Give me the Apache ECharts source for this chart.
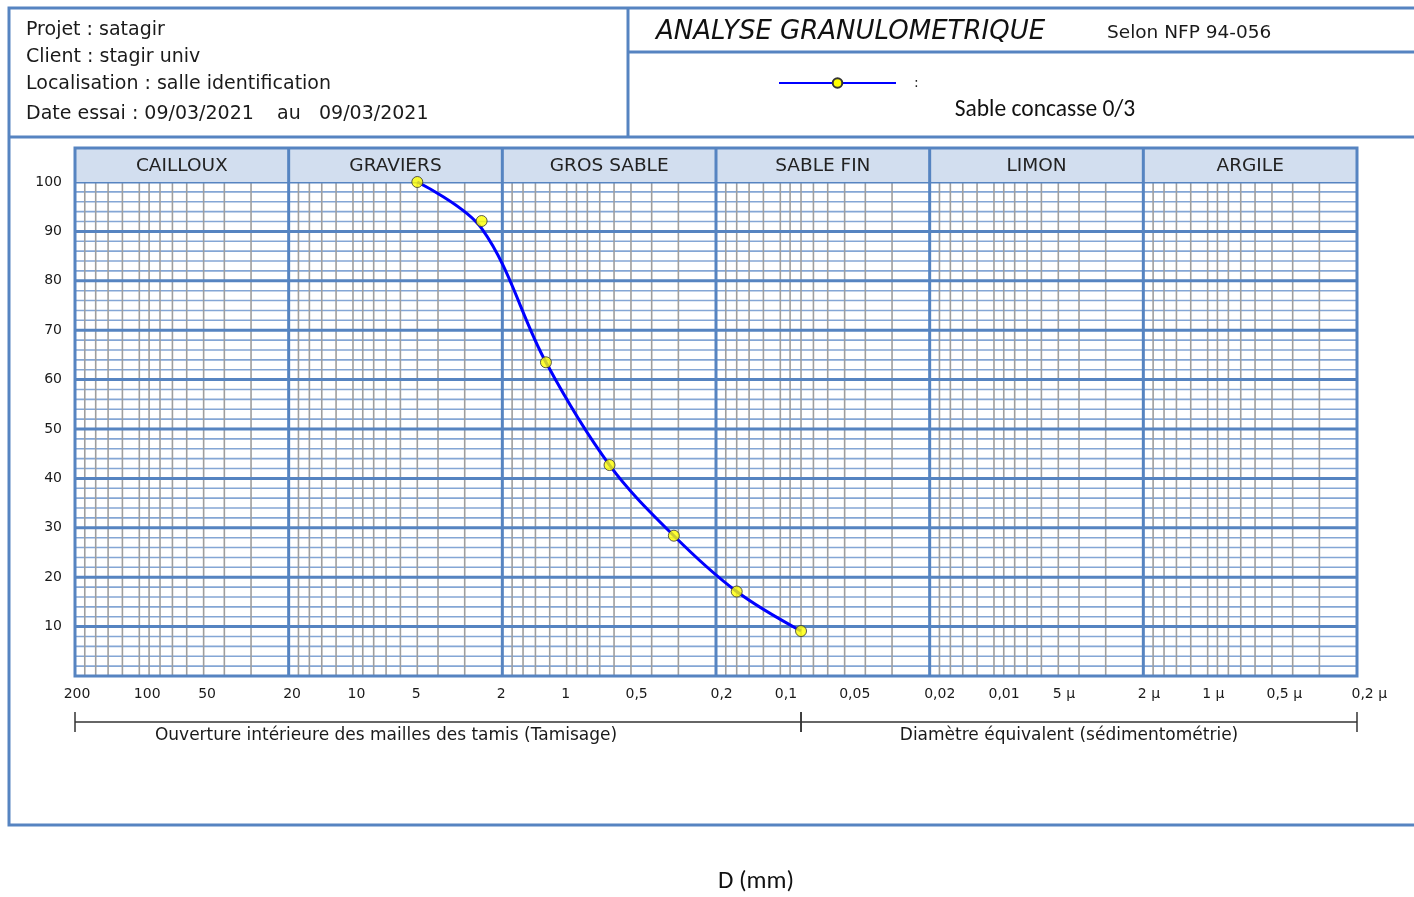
<!DOCTYPE html>
<html>
<head>
<meta charset="utf-8">
<title>Analyse granulométrique</title>
<script src="https://cdn.jsdelivr.net/npm/echarts@6/dist/echarts.min.js"></script>
<style>
  html, body { margin: 0; padding: 0; background: #ffffff; }
  #chart { width: 1414px; height: 897px; }
</style>
</head>
<body>
<div id="chart"></div>
<script>
// Tamisage : ouvertures des tamis (mm) et passants cumulés mesurés (%)
const tamis = [5, 2.5, 1.25, 0.63, 0.315, 0.16, 0.08];
const passants = [100, 92.1, 63.5, 42.7, 28.4, 17.1, 9.1];
// Courbe granulométrique lissée, relevée aux mêmes ouvertures (%)
const passantsCourbe = [100, 90.6, 63.5, 42.7, 28.4, 17.1, 9.1];
const nomEchantillon = 'Sable concasse 0/3';

// Classes granulométriques et leurs bornes (mm)
const classes = ['CAILLOUX', 'GRAVIERS', 'GROS SABLE', 'SABLE FIN', 'LIMON', 'ARGILE'];
const bornesClasses = [200, 20, 2, 0.2, 0.02, 0.002, 0.0002];

// Graduations de l'axe des diamètres (mm) et leurs libellés
const graduations = [200, 100, 50, 20, 10, 5, 2, 1, 0.5, 0.2, 0.1, 0.05, 0.02, 0.01, 0.005, 0.002, 0.001, 0.0005, 0.0002];
const libellesGraduations = ['200', '100', '50', '20', '10', '5', '2', '1', '0,5', '0,2', '0,1', '0,05', '0,02', '0,01', '5 µ', '2 µ', '1 µ', '0,5 µ', '0,2 µ'];

// Domaines de mesure sous l'axe (bornes en mm)
const domaines = [
  { de: 200, a: 0.08, texte: 'Ouverture intérieure des mailles des tamis (Tamisage)' },
  { de: 0.08, a: 0.0002, texte: 'Diamètre équivalent (sédimentométrie)' }
];

// Papier semi-logarithmique : subdivisions de chaque décade (× borne basse)
const subdivisions = [1.5, 2, 2.5, 3, 3.5, 4, 4.5, 5, 6, 7, 8, 9];
const basesDecades = [0.0002, 0.002, 0.02, 0.2, 2, 20];
const decadesInternes = [20, 2, 0.2, 0.02, 0.002];

const lignesVerticalesMineures = [];
basesDecades.forEach(b => subdivisions.forEach(m => lignesVerticalesMineures.push([+(b * m).toPrecision(6), 0])));
const lignesHorizMineures = [];
const lignesHorizMajeures = [];
for (let p = 2; p < 100; p += 2) {
  if (p % 10 === 0) lignesHorizMajeures.push([200, p]);
  else lignesHorizMineures.push([200, p]);
}
lignesHorizMajeures.push([200, 100]);

const BLEU = '#5684c1';
const BLEU_CLAIR = '#84a6d5';
const GRIS = '#9e9e9e';
const BANDEAU = '#d2deef';
const POLICE = "'DejaVu Sans', Verdana, sans-serif";
const POLICE_TEXTE = "Carlito, Lato, 'Open Sans', sans-serif";
const HAUTEUR_BANDEAU = 34;
// Décalage horizontal des libellés de domaines par rapport au milieu de l'accolade (px)
const decalagesDomaines = [-52, -10];

function trait(x1, y1, x2, y2, stroke, lineWidth) {
  return { type: 'line', shape: { x1, y1, x2, y2 }, style: { stroke, lineWidth } };
}

function texte(x, y, contenu, font, extra) {
  return { type: 'text', x, y, style: Object.assign({ text: contenu, font, fill: '#1a1a1a', verticalAlign: 'middle' }, extra || {}) };
}

const chart = echarts.init(document.getElementById('chart'));
const F_ENTETE = '19px ' + POLICE;

chart.setOption({
  animation: false,
  backgroundColor: '#ffffff',
  grid: { left: 75, right: 57, top: 182, bottom: 221, containLabel: false },
  xAxis: {
    type: 'log',
    min: 0.0002,
    max: 200,
    inverse: true,
    axisLine: { show: false },
    axisTick: { show: false },
    axisLabel: { show: false },
    splitLine: { show: false }
  },
  yAxis: {
    type: 'value',
    min: 0,
    max: 100,
    interval: 10,
    axisLine: { show: false },
    axisTick: { show: false },
    splitLine: { show: false },
    axisLabel: {
      margin: 13,
      color: '#1a1a1a',
      fontFamily: POLICE,
      fontSize: 14,
      formatter: v => (v === 0 ? '' : String(v))
    }
  },
  legend: {
    left: 773,
    top: 71,
    itemWidth: 117,
    itemHeight: 12,
    selectedMode: false,
    data: [nomEchantillon],
    formatter: () => ':',
    textStyle: { color: '#222', fontFamily: POLICE, fontSize: 14, padding: [0, 0, 0, 13] }
  },
  graphic: [
    { type: 'rect', z: -10, shape: { x: 9, y: 8, width: 1420, height: 817 }, style: { fill: 'none', stroke: BLEU, lineWidth: 3 } },
    { type: 'line', z: -10, shape: { x1: 628, y1: 8, x2: 628, y2: 137 }, style: { stroke: BLEU, lineWidth: 3 } },
    { type: 'line', z: -10, shape: { x1: 9, y1: 137, x2: 1414, y2: 137 }, style: { stroke: BLEU, lineWidth: 3 } },
    { type: 'line', z: -10, shape: { x1: 628, y1: 52, x2: 1414, y2: 52 }, style: { stroke: BLEU, lineWidth: 3 } },
    texte(26, 30, 'Projet : satagir', F_ENTETE),
    texte(26, 57, 'Client : stagir univ', F_ENTETE),
    texte(26, 84, 'Localisation : salle identification', F_ENTETE),
    texte(26, 114, 'Date essai : 09/03/2021', F_ENTETE),
    texte(277, 114, 'au', F_ENTETE),
    texte(319, 114, '09/03/2021', F_ENTETE),
    texte(656, 32, 'ANALYSE GRANULOMETRIQUE', 'italic 26px ' + POLICE, { fill: '#111' }),
    texte(1107, 33, 'Selon NFP 94-056', '18.5px ' + POLICE),
    texte(1045, 110, nomEchantillon, '23.5px ' + POLICE_TEXTE, { fill: '#111', align: 'center' }),
    texte(756, 882, 'D (mm)', '25px ' + POLICE_TEXTE, { fill: '#111', align: 'center' })
  ],
  series: [
    {
      // Quadrillage fin horizontal (tous les 2 %)
      type: 'custom', z: 1, silent: true, clip: false,
      encode: { x: 0, y: 1 },
      data: lignesHorizMineures,
      renderItem: (params, api) => {
        const y = api.value(1);
        const a = api.coord([200, y]), b = api.coord([0.0002, y]);
        return trait(a[0], a[1], b[0], b[1], BLEU_CLAIR, 1.6);
      }
    },
    {
      // Subdivisions des décades
      type: 'custom', z: 2, silent: true, clip: false,
      encode: { x: 0, y: 1 },
      data: lignesVerticalesMineures,
      renderItem: (params, api) => {
        const v = api.value(0);
        const a = api.coord([v, 100]), b = api.coord([v, 0]);
        return trait(a[0], a[1], b[0], b[1], GRIS, 1.6);
      }
    },
    {
      // Quadrillage horizontal principal (tous les 10 %)
      type: 'custom', z: 3, silent: true, clip: false,
      encode: { x: 0, y: 1 },
      data: lignesHorizMajeures,
      renderItem: (params, api) => {
        const y = api.value(1);
        const a = api.coord([200, y]), b = api.coord([0.0002, y]);
        return trait(a[0], a[1], b[0], b[1], BLEU, 3);
      }
    },
    {
      // Bandeau des classes granulométriques
      type: 'custom', z: 4, silent: true, clip: false,
      encode: { x: [0, 1] },
      data: classes.map((c, i) => [bornesClasses[i], bornesClasses[i + 1]]),
      renderItem: (params, api) => {
        const a = api.coord([api.value(0), 100]);
        const b = api.coord([api.value(1), 100]);
        const x = Math.min(a[0], b[0]), w = Math.abs(b[0] - a[0]);
        return {
          type: 'group',
          children: [
            { type: 'rect', shape: { x, y: a[1] - HAUTEUR_BANDEAU, width: w, height: HAUTEUR_BANDEAU }, style: { fill: BANDEAU } },
            texte(x + w / 2, a[1] - HAUTEUR_BANDEAU / 2 + 1, classes[params.dataIndex], '18.5px ' + POLICE, { fill: '#222', align: 'center' })
          ]
        };
      }
    },
    {
      // Limites des décades et cadre du graphique
      type: 'custom', z: 5, silent: true, clip: false,
      encode: { x: 0, y: 1 },
      data: decadesInternes.map(v => [v, 0]),
      renderItem: (params, api) => {
        const v = api.value(0);
        const a = api.coord([v, 100]), b = api.coord([v, 0]);
        const els = [trait(a[0], a[1] - HAUTEUR_BANDEAU, b[0], b[1], BLEU, 3)];
        if (params.dataIndex === 0) {
          const hg = api.coord([200, 100]), bd = api.coord([0.0002, 0]);
          els.push({
            type: 'rect',
            shape: { x: hg[0], y: hg[1] - HAUTEUR_BANDEAU, width: bd[0] - hg[0], height: bd[1] - hg[1] + HAUTEUR_BANDEAU },
            style: { fill: 'none', stroke: BLEU, lineWidth: 3 }
          });
        }
        return { type: 'group', children: els };
      }
    },
    {
      // Libellés des graduations en diamètre (origine centrée, les autres calés à gauche du trait)
      type: 'custom', z: 6, silent: true, clip: false,
      encode: { x: 0, y: 1 },
      data: graduations.map(v => [v, 0]),
      renderItem: (params, api) => {
        const p = api.coord([api.value(0), 0]);
        const premier = params.dataIndex === 0;
        return texte(premier ? p[0] + 2 : p[0] - 5.5, p[1] + 18, libellesGraduations[params.dataIndex], '14px ' + POLICE,
          { align: premier ? 'center' : 'left' });
      }
    },
    {
      // Accolades des domaines tamisage / sédimentométrie
      type: 'custom', z: 6, silent: true, clip: false,
      encode: { x: [0, 1] },
      data: domaines.map(d => [d.de, d.a]),
      renderItem: (params, api) => {
        const a = api.coord([api.value(0), 0]);
        const b = api.coord([api.value(1), 0]);
        const y = a[1] + 46;
        return {
          type: 'group',
          children: [
            trait(a[0], y, b[0], y, '#333', 1.5),
            trait(a[0], y - 10, a[0], y + 10, '#333', 1.5),
            trait(b[0], y - 10, b[0], y + 10, '#333', 1.5),
            texte((a[0] + b[0]) / 2 + decalagesDomaines[params.dataIndex], y + 14, domaines[params.dataIndex].texte,
              '17px ' + POLICE, { align: 'center' })
          ]
        };
      }
    },
    {
      // Courbe granulométrique
      name: nomEchantillon,
      type: 'line', z: 10,
      smooth: 0.35,
      symbol: 'circle',
      symbolSize: 11,
      showSymbol: false,
      silent: true,
      lineStyle: { color: '#0000ff', width: 3 },
      itemStyle: { color: '#ffff00', borderColor: '#333', borderWidth: 1 },
      data: tamis.map((d, i) => [d, passantsCourbe[i]])
    },
    {
      // Passants mesurés
      name: 'Passants',
      type: 'scatter', z: 11,
      symbol: 'circle',
      symbolSize: 11,
      silent: true,
      itemStyle: { color: '#ffff00', borderColor: '#333', borderWidth: 1 },
      data: tamis.map((d, i) => [d, passants[i]])
    }
  ]
});
</script>
</body>
</html>
